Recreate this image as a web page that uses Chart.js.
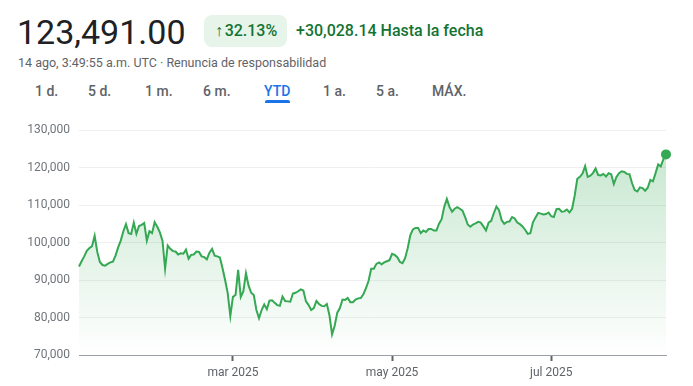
<!DOCTYPE html>
<html>
<head>
<meta charset="utf-8">
<script src="https://cdn.jsdelivr.net/npm/chart.js@4.4.1/dist/chart.umd.min.js"></script>
<style>
  body { margin: 0; background: #fff; font-family: Roboto, Arial, sans-serif; }
  #wrap { position: relative; width: 693px; height: 386px; overflow: hidden; }
  .abs { position: absolute; white-space: nowrap; }
  #price { left: 17px; top: 12px; font-size: 34px; color: #202124; line-height: 40px; }
  #badge { left: 204px; top: 15px; width: 83px; height: 32px; background: #e6f4ea; border-radius: 8px; }
  #badgeText { left: 215px; top: 22px; font-size: 16px; color: #137333; line-height: 18px; font-weight: 500; }
  #change { left: 296px; top: 21px; font-size: 16px; color: #137333; line-height: 20px; font-weight: 500; }
  #sub { left: 18px; top: 55px; font-size: 12.5px; color: #5f6368; line-height: 15px; }
  .tab { top: 83px; font-size: 14px; color: #5f6368; line-height: 17px; font-weight: 500; }
  .tab.on { color: #1a73e8; }
  #under { left: 265px; top: 100px; width: 25px; height: 3px; background: #1a73e8; border-radius: 2px 2px 0 0; }
  #chart { position: absolute; left: 0; top: 110px; }
</style>
</head>
<body>
<div id="wrap">
  <div class="abs" id="price">123,491.00</div>
  <div class="abs" id="badge"></div>
  <div class="abs" id="badgeText">&#8593;&#8202;32.13%</div>
  <div class="abs" id="change">+30,028.14 Hasta la fecha</div>
  <div class="abs" id="sub">14 ago, 3:49:55 a.m. UTC · Renuncia de responsabilidad</div>
  <div class="abs tab" style="left:35px">1 d.</div>
  <div class="abs tab" style="left:88px">5 d.</div>
  <div class="abs tab" style="left:145px">1 m.</div>
  <div class="abs tab" style="left:203px">6 m.</div>
  <div class="abs tab on" style="left:264px">YTD</div>
  <div class="abs tab" style="left:323px">1 a.</div>
  <div class="abs tab" style="left:376px">5 a.</div>
  <div class="abs tab" style="left:432px">MÁX.</div>
  <div class="abs" id="under"></div>
  <canvas id="chart" width="693" height="276"></canvas>
</div>
<script>
// daily closes since 1 Jan 2025 (index = day of year - 1)
const prices = [
  93600, 95000, 96300, 97800, 98500, 99000, 101800, 97500, 94800, 94000,
  93800, 94300, 94700, 94900, 96500, 98700, 100500, 103000, 104900, 102500,
  102300, 105300, 102300, 104400, 104700, 105200, 100500, 103000, 102500, 105400,
  104200, 102700, 100500, 93000, 99200, 98300, 97700, 97600, 96800, 97100,
  97000, 98100, 95700, 96700, 96800, 97600, 97500, 96300, 96100, 95500,
  97300, 98300, 96500, 96300, 96000, 93200, 90000, 86500, 80400, 85500,
  86000, 92700, 85500, 87000, 91800, 88500, 86600, 86000, 82000, 79800,
  82000, 83500, 82200, 84500, 84600, 83900, 83300, 83100, 85600, 84400,
  84300, 84200, 86400, 86600, 87000, 87500, 87200, 84300, 83300, 82000,
  82500, 84400, 83600, 83100, 83000, 83600, 80600, 75500, 77800, 81300,
  82500, 84800, 84700, 85200, 84100, 84100, 84800, 85100, 85200, 86200,
  87800, 89800, 93000, 93000, 94300, 94700, 94200, 94700, 95000, 95300,
  97000, 96700, 96100, 94800, 94500, 95800, 98500, 102000, 103500, 103900,
  103900, 102500, 103200, 102800, 103600, 103600, 103200, 103200, 105000, 106200,
  109500, 111600, 109500, 108200, 109000, 109400, 109000, 108500, 106800, 104800,
  104200, 104800, 105100, 105500, 105300, 104300, 103200, 105300, 105800, 107800,
  109600, 108600, 106000, 105000, 105500, 105600, 106800, 106400, 105300, 104900,
  104300, 103400, 102300, 102500, 105400, 106700, 107900, 107700, 107500, 107600,
  108000, 107000, 106800, 108900, 109000, 108200, 108300, 108800, 108000, 109000,
  112500, 117000, 117500, 118400, 120400, 117500, 117800, 118500, 119700, 118000,
  117900, 118300, 117600, 118500, 118200, 115600, 117500, 118500, 119000, 118800,
  118300, 118200, 115800, 114000, 113600, 114700, 114500, 113800, 114600, 116700,
  116300, 118500, 120800, 120300, 122200, 123491
];
const tickDays = [59, 120, 181];
const tickLabels = ['mar 2025', 'may 2025', 'jul 2025'];
const yMin = 70000;
const yMax = 130000;

const green = '#34a853';
const lastIdx = prices.length - 1;

const ctx = document.getElementById('chart').getContext('2d');
const chart = new Chart(ctx, {
    type: 'line',
    data: {
        datasets: [{
            data: prices.map((v, i) => ({ x: i, y: v })),
            borderColor: green,
            borderWidth: 2,
            tension: 0,
            fill: 'start',
            backgroundColor: (c) => {
                const area = c.chart.chartArea;
                if (!area) return 'rgba(52,168,83,0.1)';
                const g = c.chart.ctx.createLinearGradient(0, area.top, 0, area.bottom);
                g.addColorStop(0, 'rgba(52,168,83,0.3)');
                g.addColorStop(1, 'rgba(52,168,83,0)');
                return g;
            },
            pointRadius: (c) => c.dataIndex === lastIdx ? 5 : 0,
            pointBorderWidth: 0,
            pointBackgroundColor: green,
            clip: false
        }]
    },
    options: {
        responsive: false,
        animation: false,
        devicePixelRatio: 1,
        layout: { padding: { top: 20, right: 27, left: 0, bottom: 0 } },
        plugins: { legend: { display: false }, tooltip: { enabled: false } },
        scales: {
            x: {
                type: 'linear',
                min: 0,
                max: lastIdx,
                afterBuildTicks: (s) => { s.ticks = tickDays.map(v => ({ value: v })); },
                afterFit: (s) => { s.height = 31; },
                ticks: {
                    autoSkip: false,
                    maxRotation: 0,
                    padding: 5,
                    color: '#5f6368',
                    font: { family: 'Roboto', size: 12 },
                    callback: (v) => tickLabels[tickDays.indexOf(v)]
                },
                grid: {
                    drawOnChartArea: false,
                    drawTicks: true,
                    tickLength: 6,
                    tickWidth: 2,
                    tickColor: '#5f6368'
                },
                border: { display: true, color: '#9aa0a6', width: 1 }
            },
            y: {
                min: yMin,
                max: yMax,
                afterFit: (s) => { s.width = 79; },
                ticks: {
                    stepSize: 10000,
                    padding: 9,
                    color: '#70757a',
                    font: { family: 'Roboto', size: 12 },
                    callback: (v) => v.toLocaleString('en-US')
                },
                grid: { color: '#efefef', drawTicks: false },
                border: { display: false }
            }
        }
    }
});
</script>
</body>
</html>
